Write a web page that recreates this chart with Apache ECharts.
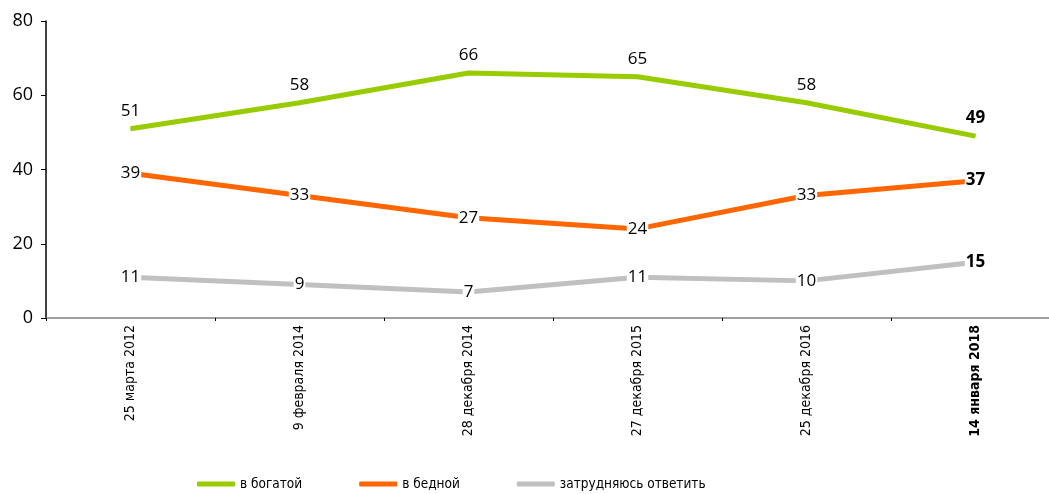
<!DOCTYPE html>
<html><head><meta charset="utf-8">
<script src="https://cdn.jsdelivr.net/npm/echarts@6/dist/echarts.min.js"></script>
<style>html,body{margin:0;padding:0;background:#fff}#c{width:1049px;height:494px}</style>
</head><body><div id="c"></div>
<script>
const categories = ['25 марта 2012','9 февраля 2014','28 декабря 2014','27 декабря 2015','25 декабря 2016','14 января 2018'];
const rich = [51,58,66,65,58,49];
const poor = [39,33,27,24,33,37];
const hard = [11,9,7,11,10,15];
const seriesNames = ['в богатой','в бедной','затрудняюсь ответить'];
const colors = ['#99CC00','#FF6600','#C0C0C0'];
const yTicks = [0,20,40,60,80];

const last = categories.length - 1;
function mk(vals){
  return vals.map((v,i)=>({value:v, label:{fontWeight: i===last?'bold':'normal'}}));
}
const chart = echarts.init(document.getElementById('c'));
const baseLabel = {show:true, color:'#000', fontSize:17, fontFamily:'"Open Sans","DejaVu Sans",sans-serif'};
const condensed = '"DejaVu Sans Condensed","Liberation Sans Narrow",sans-serif';
chart.setOption({
  animation:false,
  grid:{left:46, top:21, bottom:176, width:1014, outerBoundsMode:'none', containLabel:false},
  legend:{
    bottom:3, left:197, padding:0, itemWidth:38, itemHeight:5, itemGap:57, icon:'roundRect',
    textStyle:{fontSize:13.5, fontFamily:condensed, color:'#000', fontWeight:500},
    data:seriesNames
  },
  xAxis:{
    type:'category', data:categories, boundaryGap:true,
    axisLine:{lineStyle:{color:'#808080', width:1.5}},
    axisTick:{show:true, length:3, lineStyle:{color:'#000'}},
    axisLabel:{rotate:90, interval:0, fontSize:14, color:'#000', margin:7,
      fontFamily:condensed,
      formatter:(v,i)=> i===last ? '{b|'+v+'}' : v,
      rich:{b:{fontWeight:'bold', fontSize:14, fontFamily:condensed}}}
  },
  yAxis:{
    type:'value', min:yTicks[0], max:yTicks[yTicks.length-1], interval:20,
    splitLine:{show:false},
    axisLine:{show:true, lineStyle:{color:'#000', width:1.5}},
    axisTick:{show:true, length:5, lineStyle:{color:'#000'}},
    axisLabel:{fontSize:18, color:'#000', margin:13, fontFamily:'"Open Sans","DejaVu Sans",sans-serif'}
  },
  series:[
    {name:seriesNames[0], type:'line', data:mk(rich), color:colors[0], symbol:'circle', symbolSize:1,
      lineStyle:{width:5, color:colors[0]}, itemStyle:{color:colors[0]},
      label:Object.assign({}, baseLabel, {position:'top', distance:9})},
    {name:seriesNames[1], type:'line', data:mk(poor), color:colors[1], symbol:'circle', symbolSize:1,
      lineStyle:{width:5, color:colors[1]}, itemStyle:{color:colors[1]},
      label:Object.assign({}, baseLabel, {position:'inside', backgroundColor:'#fff', padding:[0,1]})},
    {name:seriesNames[2], type:'line', data:mk(hard), color:colors[2], symbol:'circle', symbolSize:1,
      lineStyle:{width:5, color:colors[2]}, itemStyle:{color:colors[2]},
      label:Object.assign({}, baseLabel, {position:'inside', backgroundColor:'#fff', padding:[0,1]})}
  ]
});
</script></body></html>
